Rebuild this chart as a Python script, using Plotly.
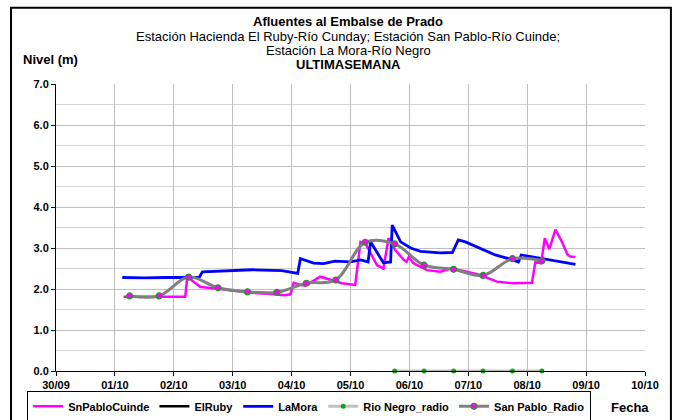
import plotly.graph_objects as go

# ---------------- data ----------------
sp_cuinde_t = ["2011-10-01 03:30", "2011-10-02 04:40", "2011-10-02 05:30", "2011-10-02 10:50",
               "2011-10-02 17:20", "2011-10-02 23:50", "2011-10-03 07:10", "2011-10-03 15:20",
               "2011-10-03 21:20", "2011-10-03 23:30", "2011-10-04 00:50", "2011-10-04 03:40",
               "2011-10-04 05:30", "2011-10-04 11:40", "2011-10-04 17:45", "2011-10-04 20:35",
               "2011-10-05 01:55", "2011-10-05 04:05", "2011-10-05 06:05", "2011-10-05 10:50",
               "2011-10-05 13:25", "2011-10-05 15:30", "2011-10-05 18:15", "2011-10-05 21:40",
               "2011-10-05 22:50", "2011-10-05 23:45", "2011-10-06 01:40", "2011-10-06 04:30",
               "2011-10-06 07:10", "2011-10-06 12:35", "2011-10-06 16:40", "2011-10-06 22:05",
               "2011-10-07 04:50", "2011-10-07 11:40", "2011-10-07 18:20", "2011-10-08 01:55",
               "2011-10-08 03:20", "2011-10-08 05:40", "2011-10-08 07:10", "2011-10-08 09:00",
               "2011-10-08 11:30", "2011-10-08 14:10", "2011-10-08 16:20", "2011-10-08 17:30",
               "2011-10-08 19:40"]
sp_cuinde_v = [1.81, 1.81, 2.30, 2.05,
               2.01, 1.97, 1.91, 1.88,
               1.85, 1.87, 2.15, 2.10,
               2.08, 2.30, 2.20, 2.14,
               2.10, 3.15, 3.11, 2.58,
               2.50, 3.24, 2.95, 2.71,
               2.66, 2.78, 2.63, 2.54,
               2.46, 2.42, 2.50, 2.44,
               2.34, 2.18, 2.14, 2.15,
               2.66, 2.63, 3.24, 2.97,
               3.45, 3.15, 2.85, 2.79,
               2.78]

elruby_t = ["2011-10-01 00:00"]
elruby_v = [None]

lamora_t = ["2011-10-01 03:00", "2011-10-01 12:00", "2011-10-01 21:00", "2011-10-02 06:00",
            "2011-10-02 10:20", "2011-10-02 11:40", "2011-10-02 20:00", "2011-10-03 00:00",
            "2011-10-03 08:00", "2011-10-03 12:00", "2011-10-03 20:00", "2011-10-04 02:30",
            "2011-10-04 03:35", "2011-10-04 09:00", "2011-10-04 13:00", "2011-10-04 17:45",
            "2011-10-05 00:00", "2011-10-05 04:05", "2011-10-05 07:10", "2011-10-05 08:10",
            "2011-10-05 13:25", "2011-10-05 16:20", "2011-10-05 17:00", "2011-10-05 20:25",
            "2011-10-06 00:30", "2011-10-06 04:30", "2011-10-06 12:30", "2011-10-06 17:30",
            "2011-10-06 19:55", "2011-10-06 22:50", "2011-10-07 04:50", "2011-10-07 11:00",
            "2011-10-07 17:00", "2011-10-07 20:25", "2011-10-07 21:35", "2011-10-08 05:15",
            "2011-10-08 13:30", "2011-10-08 19:40"]
lamora_v = [2.28, 2.27, 2.28, 2.27,
            2.28, 2.42, 2.44, 2.45,
            2.47, 2.46, 2.45, 2.38,
            2.74, 2.63, 2.62, 2.68,
            2.66, 2.71, 2.66, 3.15,
            2.64, 2.66, 3.56, 3.15,
            3.00, 2.92, 2.88, 2.89,
            3.20, 3.15, 2.99, 2.83,
            2.73, 2.66, 2.83, 2.75,
            2.67, 2.60]

rionegro_t = ["2011-10-05 18:00", "2011-10-06 06:00", "2011-10-06 18:00",
              "2011-10-07 06:00", "2011-10-07 18:00", "2011-10-08 06:00"]
rionegro_v = [0, 0, 0, 0, 0, 0]

sp_radio_t = ["2011-10-01 06:00", "2011-10-01 18:00", "2011-10-02 06:00", "2011-10-02 18:00",
              "2011-10-03 06:00", "2011-10-03 18:00", "2011-10-04 06:00", "2011-10-04 18:00",
              "2011-10-05 06:00", "2011-10-05 18:00", "2011-10-06 06:00", "2011-10-06 18:00",
              "2011-10-07 06:00", "2011-10-07 18:00", "2011-10-08 06:00"]
sp_radio_v = [1.83, 1.83, 2.29, 2.03,
              1.93, 1.92, 2.14, 2.22,
              3.14, 3.10, 2.58, 2.48,
              2.33, 2.74, 2.69]

x_range = ["2011-09-30 00:00", "2011-10-10 00:00"]
y_range = [0, 7]

title_lines = ["<b>Afluentes al Embalse de Prado</b>",
               "Estación Hacienda El Ruby-Río Cunday; Estación San Pablo-Río Cuinde;",
               "Estación La Mora-Río Negro",
               "<b>ULTIMASEMANA</b>"]

# ---------------- figure ----------------
FONT = "Liberation Sans, Arial, sans-serif"
fig = go.Figure()

fig.add_trace(go.Scatter(x=sp_cuinde_t, y=sp_cuinde_v, name="SnPabloCuinde", mode="lines",
                         line=dict(color="#FF00FF", width=2.5)))
fig.add_trace(go.Scatter(x=elruby_t, y=elruby_v, name="ElRuby", mode="lines",
                         line=dict(color="#000000", width=2.5)))
fig.add_trace(go.Scatter(x=lamora_t, y=lamora_v, name="LaMora", mode="lines",
                         line=dict(color="#0000FF", width=2.8)))
fig.add_trace(go.Scatter(x=rionegro_t, y=rionegro_v, name="Rio Negro_radio", mode="lines+markers",
                         line=dict(color="#C0C0C0", width=3),
                         marker=dict(color="#1E9A1E", size=5), cliponaxis=False))
fig.add_trace(go.Scatter(x=sp_radio_t, y=sp_radio_v, name="San Pablo_Radio", mode="lines+markers",
                         line=dict(color="#808080", width=3, shape="spline", smoothing=1),
                         marker=dict(color="#FF00FF", size=6, line=dict(color="#1E9A1E", width=1.2))))

ann = []
ys = [1.2176, 1.1652, 1.1163, 1.0674]
sizes = [13, 13, 13, 13]
for t, yy, sz in zip(title_lines, ys, sizes):
    ann.append(dict(text=t, x=0.496, y=yy, xref="paper", yref="paper", showarrow=False,
                    xanchor="center", yanchor="middle", font=dict(size=sz, color="black", family=FONT)))
ann.append(dict(text="<b>Nivel (m)</b>", x=-0.0085, y=1.085, xref="paper", yref="paper",
                showarrow=False, xanchor="center", yanchor="middle",
                font=dict(size=13, color="black", family=FONT)))
ann.append(dict(text="<b>Fecha</b>", x=0.975, y=-0.127, xref="paper", yref="paper",
                showarrow=False, xanchor="center", yanchor="middle",
                font=dict(size=13, color="black", family=FONT)))

fig.update_layout(
    width=676, height=420,
    margin=dict(l=56, r=31, t=84, b=49, autoexpand=False),
    paper_bgcolor="white", plot_bgcolor="white",
    font=dict(family=FONT, color="black"),
    annotations=ann,
    showlegend=True,
    legend=dict(orientation="h", x=-0.049, y=-0.069, xanchor="left", yanchor="top",
                bordercolor="black", borderwidth=1, bgcolor="white",
                font=dict(size=11, family=FONT, weight="bold"),
                itemwidth=30, tracegroupgap=0),
    shapes=[dict(type="rect", xref="paper", yref="paper", x0=-0.0764, x1=1.044, y0=-0.2, y1=1.266,
                 line=dict(color="black", width=2), layer="below")],
)

fig.update_xaxes(type="date", range=x_range, dtick=86400000, tick0="2011-09-30",
                 tickformat="%d/%m", showgrid=True, gridcolor="#C0C0C0", gridwidth=1,
                 showline=True, linecolor="black", linewidth=1,
                 ticks="outside", ticklen=4, tickcolor="black",
                 tickfont=dict(size=11, family=FONT, weight="bold"), zeroline=False)
fig.update_yaxes(range=y_range, dtick=1, tick0=0, tickformat=".1f",
                 showgrid=True, gridcolor="#C0C0C0", gridwidth=1,
                 minor=dict(dtick=0.5, showgrid=True, gridcolor="#D4D4D4", gridwidth=1),
                 showline=True, linecolor="black", linewidth=1,
                 ticks="outside", ticklen=4, tickcolor="black",
                 tickfont=dict(size=11, family=FONT, weight="bold"), zeroline=False)

fig.write_html("out.html", config={"displayModeBar": False},
               post_script="document.body.style.margin='0';document.body.style.overflow='hidden';")
